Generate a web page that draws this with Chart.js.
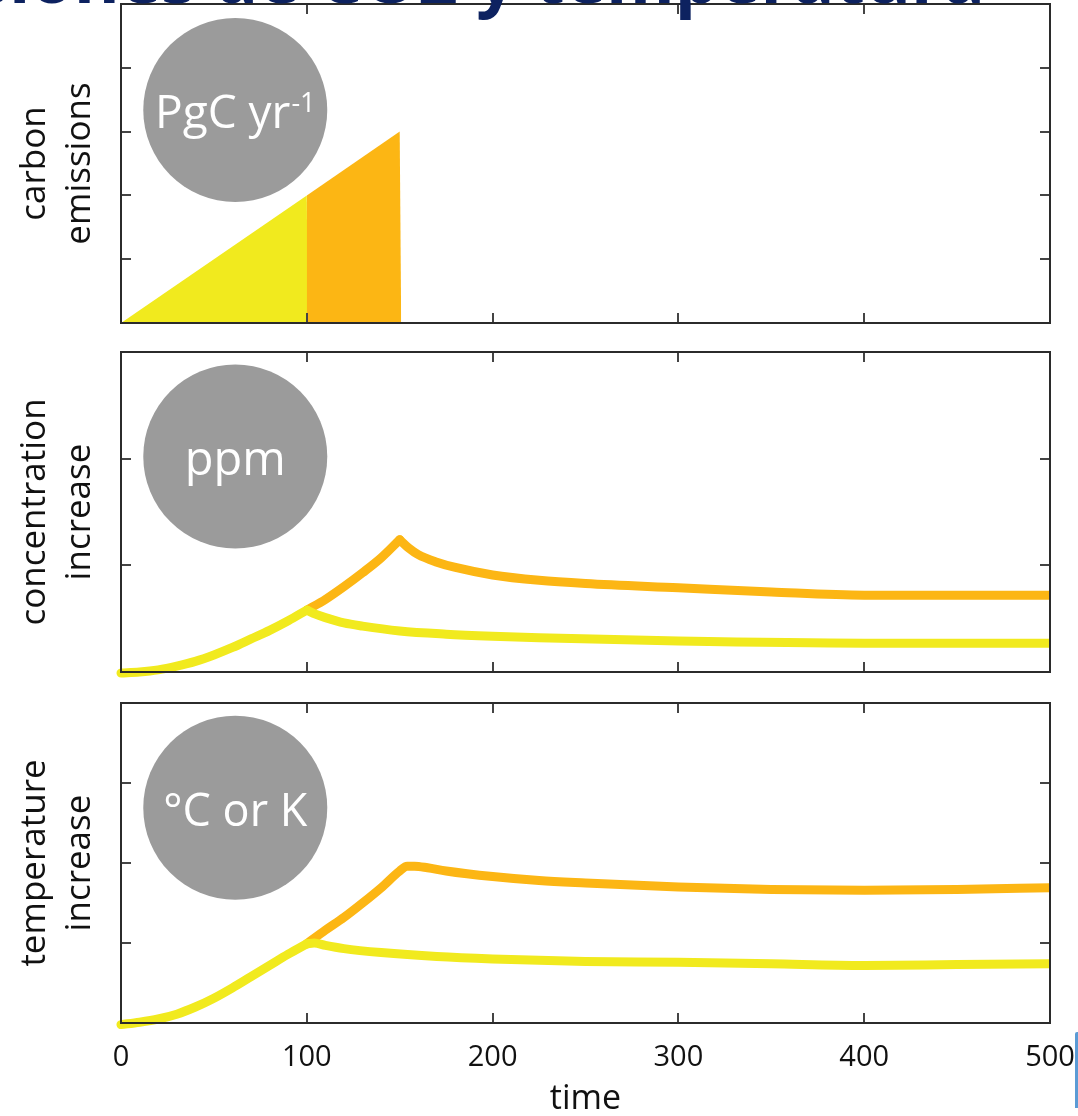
<!DOCTYPE html>
<html>
<head>
<meta charset="utf-8">
<script src="https://cdn.jsdelivr.net/npm/chart.js@4.4.1/dist/chart.umd.min.js"></script>
<style>
  body { margin: 0; background: #fff; width: 1078px; height: 1116px; overflow: hidden; position: relative; }
  canvas { position: absolute; left: 0; }
  #title {
    position: absolute; right: 93px; top: -59px; white-space: nowrap;
    font: bold 70px "Open Sans", sans-serif; line-height: 70px; color: #0d2260; z-index: 2;
  }
  #mark { position: absolute; left: 1075px; top: 1032px; width: 3px; height: 76px; background: #5b9bd5; border-radius: 2px 0 0 0; }
</style>
</head>
<body>
<div id="title">Emisiones de CO2 y temperatura</div>
<canvas id="emis" width="1078" height="340" style="top:0px"></canvas>
<canvas id="conc" width="1078" height="345" style="top:340px"></canvas>
<canvas id="temp" width="1078" height="426" style="top:690px"></canvas>
<div id="mark"></div>
<script>
// time axis
const timeTicks = [0, 100, 200, 300, 400, 500];

// carbon emissions (filled areas)
const emisYellowT = [0, 100, 100.5];
const emisYellowV = [0, 2, 0];
const emisOrangeT = [100, 150, 150.8];
const emisOrangeV = [2, 3, 0];

// concentration increase
const concYellowRiseT = [0, 10, 20, 30, 40, 50, 60, 70, 80, 90, 100];
const concYellowRiseV = [-0.01, 0.0, 0.02, 0.055, 0.1, 0.16, 0.23, 0.31, 0.39, 0.48, 0.58];
const concYellowFallT = [100, 105, 110, 120, 130, 150, 175, 200, 225, 300, 400, 500];
const concYellowFallV = [0.58, 0.54, 0.51, 0.46, 0.43, 0.385, 0.355, 0.335, 0.32, 0.29, 0.27, 0.27];
const concOrangeRiseT = [100, 110, 120, 130, 140, 150];
const concOrangeRiseV = [0.58, 0.68, 0.80, 0.93, 1.07, 1.24];
const concOrangeFallT = [150, 155, 160, 170, 180, 200, 225, 250, 300, 350, 400, 450, 500];
const concOrangeFallV = [1.24, 1.16, 1.10, 1.03, 0.98, 0.91, 0.86, 0.83, 0.79, 0.75, 0.72, 0.72, 0.72];

// temperature increase
const tempYellowRiseT = [0, 10, 20, 30, 40, 50, 60, 70, 80, 90, 100];
const tempYellowRiseV = [-0.02, 0.01, 0.05, 0.11, 0.2, 0.31, 0.44, 0.58, 0.72, 0.86, 0.99];
const tempYellowFallT = [100, 104, 110, 120, 140, 170, 200, 250, 300, 350, 400, 450, 500];
const tempYellowFallV = [0.99, 1.0, 0.97, 0.93, 0.88, 0.83, 0.80, 0.77, 0.76, 0.74, 0.72, 0.73, 0.74];
const tempOrangeT = [100, 110, 120, 130, 140, 150, 154, 158, 165, 175, 200, 225, 250, 300, 350, 400, 450, 500];
const tempOrangeV = [0.99, 1.16, 1.32, 1.5, 1.69, 1.9, 1.96, 1.96, 1.94, 1.9, 1.83, 1.78, 1.75, 1.70, 1.67, 1.66, 1.67, 1.69];

// unit badges (data units)
const badgeLabels = ['PgC yr', 'ppm', '°C or K'];
const badgeSup = ['-1', '', ''];
const badgeX = 61.5;
const badgeY = [3.34, 2.02, 2.69];

const yellow = '#f1ea1e';
const orange = '#fcb614';
const font = '"Open Sans", sans-serif';

const pts = (t, v) => t.map((x, i) => ({x: x, y: v[i]}));

function curve(t, v, color){
    return {
        type: 'line', data: pts(t, v), borderColor: color, borderWidth: 9,
        pointRadius: 0, fill: false, cubicInterpolationMode: 'monotone',
        borderCapStyle: 'round', borderJoinStyle: 'round',
        clip: {left: 5, right: 0, top: 5, bottom: 8}
    };
}

function area(t, v, color){
    return {
        type: 'line', data: pts(t, v), borderWidth: 0, borderColor: color,
        backgroundColor: color, pointRadius: 0, fill: 'origin', tension: 0
    };
}

function badge(i){
    return {
        type: 'scatter', data: [{x: badgeX, y: badgeY[i]}], pointRadius: 92,
        backgroundColor: '#9b9b9b', borderWidth: 0, pointHoverRadius: 92
    };
}

// box frame with inward ticks on all sides + badge text
const framePlugin = {
    id: 'frame',
    afterDraw(chart){
        const {ctx, chartArea: a, scales} = chart;
        ctx.save();
        ctx.strokeStyle = '#444';
        ctx.lineWidth = 2;
        const len = 10;
        scales.x.ticks.forEach(t => {
            if (t.value <= scales.x.min || t.value >= scales.x.max) return;
            const px = Math.round(scales.x.getPixelForValue(t.value));
            ctx.beginPath();
            ctx.moveTo(px, a.bottom); ctx.lineTo(px, a.bottom - len);
            ctx.moveTo(px, a.top); ctx.lineTo(px, a.top + len);
            ctx.stroke();
        });
        scales.y.ticks.forEach(t => {
            if (t.value <= scales.y.min || t.value >= scales.y.max) return;
            const py = Math.round(scales.y.getPixelForValue(t.value));
            ctx.beginPath();
            ctx.moveTo(a.left, py); ctx.lineTo(a.left + len, py);
            ctx.moveTo(a.right, py); ctx.lineTo(a.right - len, py);
            ctx.stroke();
        });
        ctx.strokeStyle = '#2b2b2b';
        ctx.strokeRect(a.left, a.top, a.right - a.left, a.bottom - a.top);

        // badge text
        const i = chart.options.plugins.frame.badge;
        const meta = chart.getDatasetMeta(chart.data.datasets.length - 1);
        const p = meta.data[0];
        const size = chart.options.plugins.frame.size;
        ctx.fillStyle = '#fff';
        ctx.textBaseline = 'alphabetic';
        ctx.font = size + 'px ' + font;
        const w1 = ctx.measureText(badgeLabels[i]).width;
        ctx.font = '27px ' + font;
        const w2 = badgeSup[i] ? ctx.measureText(badgeSup[i]).width + 1 : 0;
        const x0 = p.x - (w1 + w2) / 2;
        ctx.textAlign = 'left';
        ctx.font = size + 'px ' + font;
        ctx.fillText(badgeLabels[i], x0, p.y + 18);
        if (badgeSup[i]) {
            ctx.font = '27px ' + font;
            ctx.fillText(badgeSup[i], x0 + w1 + 1, p.y + 2);
        }
        ctx.restore();
    }
};

function makeChart(id, datasets, yMax, yTitle, padding, showX, badgeIdx, badgeSize){
    const el = document.getElementById(id);
    return new Chart(el, {
        type: 'line',
        data: {datasets: datasets},
        plugins: [framePlugin],
        options: {
            responsive: false,
            animation: false,
            layout: {padding: padding, autoPadding: false},
            scales: {
                x: {
                    type: 'linear', min: 0, max: 500, display: showX,
                    afterBuildTicks: s => { s.ticks = timeTicks.map(v => ({value: v})); },
                    afterFit: s => {
                        if (showX) s.height = 93;
                        s.paddingLeft = 0; s.paddingRight = 0;
                    },
                    grid: {display: false, drawTicks: false},
                    border: {display: false},
                    ticks: {autoSkip: false, maxRotation: 0, padding: 17, color: '#111', font: {family: font, size: 29}},
                    title: {display: true, text: 'time', color: '#111', padding: 0, font: {family: font, size: 34, lineHeight: 1}}
                },
                y: {
                    min: 0, max: yMax,
                    ticks: {display: false, stepSize: 1},
                    grid: {display: false, drawTicks: false},
                    border: {display: false},
                    afterFit: s => { s.width = 121; s.paddingTop = 0; s.paddingBottom = 0; },
                    title: {display: true, text: yTitle, color: '#111', padding: {top: 12},
                        font: {family: font, size: 35, lineHeight: 1.3}}
                }
            },
            plugins: {
                legend: {display: false},
                tooltip: {enabled: false},
                frame: {badge: badgeIdx, size: badgeSize}
            }
        }
    });
}

makeChart('emis', [
    area(emisOrangeT, emisOrangeV, orange),
    area(emisYellowT, emisYellowV, yellow),
    badge(0)
], 5, ['carbon', 'emissions'], {top: 4, bottom: 17, right: 28, left: 0}, false, 0, 46);

makeChart('conc', [
    curve(concYellowRiseT, concYellowRiseV, yellow),
    curve(concYellowFallT, concYellowFallV, yellow),
    curve(concOrangeRiseT, concOrangeRiseV, orange),
    curve(concOrangeFallT, concOrangeFallV, orange),
    badge(1)
], 3, ['concentration', 'increase'], {top: 12, bottom: 13, right: 28, left: 0}, false, 1, 47);

makeChart('temp', [
    curve(tempYellowRiseT, tempYellowRiseV, yellow),
    curve(tempYellowFallT, tempYellowFallV, yellow),
    curve(tempOrangeT, tempOrangeV, orange),
    badge(2)
], 4, ['temperature', 'increase'], {top: 13, bottom: 0, right: 28, left: 0}, true, 2, 45);
</script>
</body>
</html>
